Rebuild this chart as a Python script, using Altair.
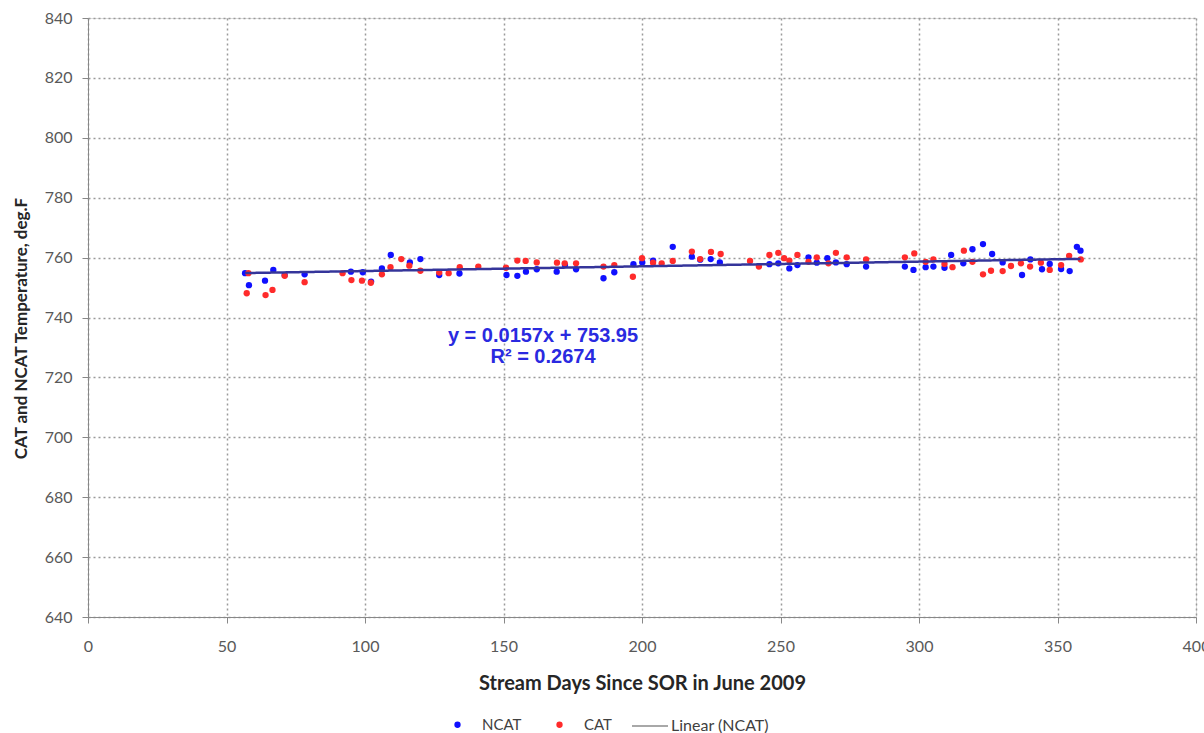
import altair as alt
import pandas as pd

# NCAT readings: stream day, temperature (deg F)
ncat_days = [56.7, 58.1, 63.9, 66.9, 71.0, 78.2, 94.9, 99.2, 102.2, 106.1, 109.3, 116.2,
             120.0, 126.8, 134.1, 151.1, 155.0, 158.1, 162.0, 169.2, 172.2, 176.2, 186.1,
             190.0, 196.9, 200.1, 204.0, 211.1, 218.0, 221.0, 224.8, 228.1, 246.0, 249.2,
             253.2, 256.1, 260.1, 263.1, 266.9, 270.0, 273.9, 280.9, 294.9, 298.0, 302.4,
             305.2, 309.2, 311.6, 316.0, 319.3, 323.1, 326.4, 330.2, 337.2, 340.2, 344.4,
             347.2, 351.3, 354.4, 357.0, 358.3]
ncat_temps = [754.8, 750.8, 752.3, 755.9, 754.2, 754.4, 755.3, 755.1, 752.0, 756.4, 760.9, 758.4,
              759.5, 754.2, 754.7, 754.2, 753.9, 755.3, 756.1, 755.3, 757.5, 756.1, 753.1,
              755.1, 757.8, 758.4, 759.0, 763.6, 760.3, 759.3, 759.5, 758.4, 757.8, 758.1,
              756.4, 757.5, 760.1, 758.3, 759.8, 758.4, 757.8, 757.0, 757.0, 755.9, 756.8,
              757.0, 756.6, 760.9, 758.1, 762.8, 764.5, 761.2, 758.4, 754.2, 759.4, 756.1,
              757.9, 756.2, 755.5, 763.6, 762.3]

# CAT readings: stream day, temperature (deg F)
cat_days = [57.9, 57.3, 64.1, 66.6, 71.0, 78.2, 91.9, 95.1, 98.9, 102.1, 106.1, 109.2, 113.1,
            116.0, 120.0, 126.8, 130.2, 134.2, 140.9, 150.9, 155.0, 158.0, 162.0, 169.3, 172.1,
            176.2, 186.1, 190.0, 196.7, 200.0, 204.0, 207.1, 211.1, 218.0, 221.0, 224.9, 228.4,
            239.0, 242.2, 246.0, 249.2, 251.3, 253.2, 256.1, 260.1, 263.1, 267.3, 270.0, 273.9,
            280.9, 294.9, 298.3, 302.4, 305.2, 309.2, 312.1, 316.2, 319.3, 323.1, 326.0, 330.2,
            333.2, 336.8, 340.1, 344.0, 347.2, 351.3, 354.2, 358.4]
cat_temps = [754.8, 748.1, 747.5, 749.2, 753.9, 751.8, 754.8, 752.5, 752.3, 751.6, 754.4, 756.8, 759.5,
             757.3, 755.6, 755.0, 754.8, 756.8, 757.0, 756.6, 759.0, 758.9, 758.4, 758.3, 758.1,
             758.1, 757.0, 757.5, 753.6, 759.8, 758.3, 758.1, 758.9, 762.0, 759.5, 761.9, 761.2,
             758.9, 757.0, 760.9, 761.6, 759.8, 759.0, 760.9, 758.6, 760.1, 758.1, 761.6, 760.1,
             759.4, 760.1, 761.4, 758.6, 759.4, 757.9, 756.8, 762.3, 758.6, 754.4, 755.6, 755.5,
             757.2, 758.1, 757.0, 758.3, 755.9, 757.5, 760.6, 759.4]

# Linear fit of the NCAT series
trend_slope = 0.0157
trend_intercept = 753.95
trend_r2 = 0.2674

series_names = ["NCAT", "CAT"]
series_colors = ["#1010ff", "#ff2b2b"]

points = pd.concat([
    pd.DataFrame({"day": ncat_days, "temp": ncat_temps, "series": "NCAT"}),
    pd.DataFrame({"day": cat_days, "temp": cat_temps, "series": "CAT"}),
], ignore_index=True)

trend_x = [min(ncat_days), max(ncat_days)]
trend = pd.DataFrame({
    "day": trend_x,
    "temp": [trend_slope * d + trend_intercept for d in trend_x],
    "fit": "Linear (NCAT)",
})

FONT = "Lato"
GRID = dict(grid=True, gridColor="#9a9a9a", gridDash=[2, 3], gridWidth=1.5)
x_scale = alt.Scale(domain=[0, 400], nice=False, zero=False)
y_scale = alt.Scale(domain=[640, 840], nice=False, zero=False)

x_axis = alt.Axis(values=list(range(0, 401, 50)), title="Stream Days Since SOR in June 2009",
                  labelFont=FONT, labelFontSize=16, labelColor="#595959", labelFlush=False,
                  titleFont=FONT, titleFontSize=20, titleFontWeight="bold", titleColor="#262626",
                  tickSize=6, labelPadding=15, titlePadding=19, **GRID)
y_axis = alt.Axis(values=list(range(640, 841, 20)), title="CAT and NCAT Temperature, deg.F",
                  labelFont=FONT, labelFontSize=16, labelColor="#595959", labelFlush=False,
                  titleFont=FONT, titleFontSize=17, titleFontWeight="bold", titleColor="#262626",
                  titleY=310, tickSize=6, labelPadding=10, titlePadding=14, **GRID)

scatter = alt.Chart(points).mark_circle(size=40, opacity=1).encode(
    x=alt.X("day:Q", scale=x_scale, axis=x_axis),
    y=alt.Y("temp:Q", scale=y_scale, axis=y_axis),
    color=alt.Color("series:N",
                    scale=alt.Scale(domain=series_names, range=series_colors),
                    sort=series_names,
                    legend=alt.Legend(title=None, orient="none", direction="horizontal",
                                      legendX=362, legendY=699, symbolType="circle",
                                      symbolSize=40, labelFont=FONT, labelFontSize=15,
                                      labelColor="#404040", labelOffset=17, columnPadding=30,
                                      padding=0)),
    order=alt.Order("series:N", sort="descending"),
)

trend_line = alt.Chart(trend).mark_line(color="#35359a", strokeWidth=2.5).encode(
    x=alt.X("day:Q", scale=x_scale),
    y=alt.Y("temp:Q", scale=y_scale),
    strokeDash=alt.StrokeDash("fit:N",
                              scale=alt.Scale(domain=["Linear (NCAT)"], range=[[1, 0]]),
                              legend=alt.Legend(title=None, orient="none", legendX=543,
                                                legendY=689, symbolType="stroke",
                                                symbolSize=1296, symbolStrokeWidth=1.5,
                                                symbolStrokeColor="#8c8c8c",
                                                labelFont=FONT, labelFontSize=16,
                                                labelColor="#404040", labelOffset=2,
                                                padding=0)),
)

eq_text = f"y = {trend_slope}x + {trend_intercept}\nR² = {trend_r2}"
equation = alt.Chart(pd.DataFrame({"label": [eq_text]})).mark_text(
    font="Liberation Sans", fontSize=20, fontWeight="bold", color="#2a2ae0",
    align="center", baseline="middle", lineHeight=21, lineBreak="\n",
).encode(text="label:N", x=alt.value(455), y=alt.value(318))

chart = alt.layer(scatter, trend_line, equation).properties(
    width=1108, height=599,
    autosize=alt.AutoSizeParams(type="none"),
    padding={"left": 88, "top": 18, "right": 8, "bottom": 116},
).configure_view(
    stroke="#8c8c8c", strokeWidth=2,
).configure_axis(
    domainColor="#8c8c8c", domainWidth=2, tickColor="#8c8c8c", tickWidth=1.5,
).configure(background="white")

chart.save("out.html", embed_options={"renderer": "svg", "actions": False})
